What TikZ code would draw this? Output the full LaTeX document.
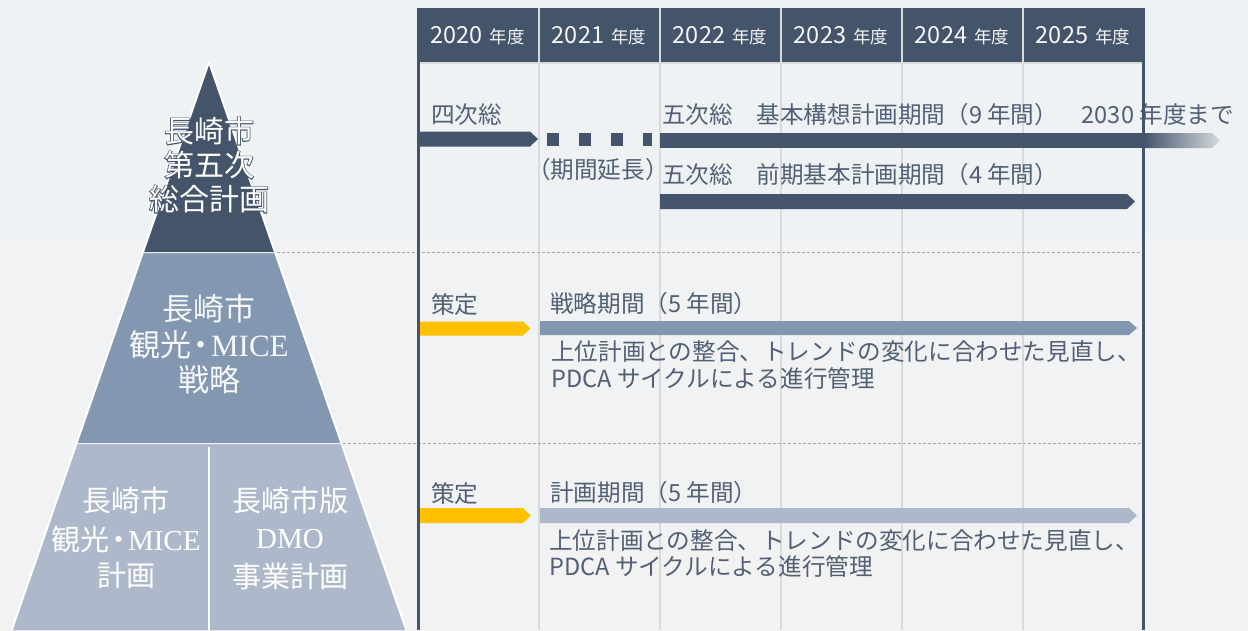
\documentclass[tikz,border=0pt]{standalone}
\usepackage{fontspec}
\setmainfont{Noto Sans CJK JP}
\newfontfamily\lser{Liberation Serif}
\newfontfamily\halo[FakeBold=5]{Noto Sans CJK JP}
\definecolor{navy}{HTML}{44546A}
\definecolor{midblue}{HTML}{8497B0}
\definecolor{lightblue}{HTML}{ADB9CA}
\definecolor{gold}{HTML}{FFC000}
\definecolor{txt}{HTML}{526075}
\definecolor{gridc}{HTML}{D9D9D9}
\definecolor{dashc}{HTML}{A6A6A6}
\definecolor{bgtop}{HTML}{EEF2F5}
\definecolor{bgbot}{HTML}{F2F2F3}
\tikzset{
  ptext/.style={inner sep=0pt, font=\fontsize{30}{30}\selectfont},
  btext/.style={inner sep=0pt, text=white, font=\fontsize{29}{29}\selectfont},
  mtext/.style={inner sep=0pt, text=white!92!midblue, font=\fontsize{31}{31}\selectfont},
  ttext/.style={inner sep=0pt, anchor=west, text=txt, font=\fontsize{23.6}{23.6}\selectfont},
  htext/.style={inner sep=0pt, text=white!95!navy},
  gridline/.style={draw=gridc, line width=2pt},
  border/.style={draw=navy, line width=2.5pt},
  divline/.style={draw=dashc, line width=0.8pt, dash pattern=on 3pt off 2pt},
  pyr/.style={draw=white, line width=2pt, line join=round},
}
\newcommand{\yr}[1]{{\fontsize{23.5}{23.5}\selectfont #1}\hspace{7pt}{\fontsize{17.5}{17.5}\selectfont 年度}}
\newcommand{\ndot}{\hspace{-0.18em}・\hspace{-0.18em}}
\begin{document}
\begin{tikzpicture}[x=1pt,y=-1pt]
\useasboundingbox (0,0) rectangle (1248,630);
\shade[top color=bgtop, bottom color=bgbot] (0,0) rectangle (1248,630);

% ---------- pyramid ----------
\fill[lightblue] (76.6,443) -- (341.4,443) -- (406.3,630) -- (11.7,630) -- cycle;
\draw[pyr] (11.7,630) -- (76.6,443) -- (341.4,443) -- (406.3,630);
\draw[pyr] (209,447) -- (209,630);
\fill[midblue] (143,252) -- (275,252) -- (341.4,443) -- (76.6,443) -- cycle;
\draw[pyr] (76.6,443) -- (143,252) -- (275,252) -- (341.4,443);
\fill[navy] (209,62) -- (275,252) -- (143,252) -- cycle;
\draw[pyr] (143,252) -- (209,62) -- (275,252);

\node[ptext, text=navy, align=center, font=\halo\fontsize{30}{34}\selectfont] (phalo) at (209,165) {長崎市\\第五次\\総合計画};
\node[ptext, text=white, align=center, font=\fontsize{30}{34}\selectfont] (ptop) at (209,165) {長崎市\\第五次\\総合計画};

\node[mtext] (ma) at (209,309) {長崎市};
\node[mtext] (mb) at (209,345) {観光\ndot{\lser MICE}};
\node[mtext] (mc) at (209,380) {戦略};

\node[btext] (la) at (126,500) {長崎市};
\node[btext] (lb) at (126,539) {観光\ndot{\lser MICE}};
\node[btext] (lc) at (126,576) {計画};
\node[btext] (ra) at (290,500) {長崎市版};
\node[btext] (rb) at (290,539) {{\lser DMO}};
\node[btext] (rc) at (290,576) {事業計画};

% ---------- table ----------
\fill[navy] (417,8) rectangle (1144.5,62);
\foreach \x in {538.5,659.5,780.5,901.5,1022.5}
  \draw[gridline] (\x,8) -- (\x,630);
\draw[gridc, line width=2pt] (418,62.5) -- (1143,62.5);

\node[htext] (h0) at (477.5,36) {\yr{2020}};
\node[htext] (h1) at (599,36) {\yr{2021}};
\node[htext] (h2) at (720,36) {\yr{2022}};
\node[htext] (h3) at (841,36) {\yr{2023}};
\node[htext] (h4) at (962,36) {\yr{2024}};
\node[htext] (h5) at (1083,36) {\yr{2025}};

\draw[divline] (277,252.5) -- (1143,252.5);
\draw[divline] (343,443.5) -- (1143,443.5);

% ---------- row 1 ----------
\node[ttext] (t1) at (431,115) {四次総};
\fill[navy] (418,131.5) -- (530,131.5) -- (538,139) -- (530,146.5) -- (418,146.5) -- cycle;
\foreach \a/\b in {546.5/558.5,579/591,611/623,643/652}
  \fill[navy] (\a,133) rectangle (\b,146);
\node[ttext] (t2) at (662,115) {五次総　基本構想計画期間（9 年間）　2030 年度まで};
\fill[navy] (660,133) rectangle (1143,148);
\shade[left color=navy, right color=navy!22!white] (1143,133) -- (1212,133) -- (1220,140.5) -- (1212,148) -- (1143,148) -- cycle;
\node[ttext] (t3) at (538,170) {\hspace{-0.47em}（期間延長）\hspace{-0.5em}};
\node[ttext] (t4) at (662,175) {五次総　前期基本計画期間（4 年間）};
\fill[navy] (660,194) -- (1127,194) -- (1135,201.5) -- (1127,209) -- (660,209) -- cycle;

% ---------- row 2 ----------
\node[ttext] (s1) at (431,305) {策定};
\fill[gold] (418,321.5) -- (523,321.5) -- (530.5,328.5) -- (523,335.5) -- (418,335.5) -- cycle;
\node[ttext] (s2) at (550,304) {戦略期間（5 年間）};
\fill[midblue] (540,321) -- (1129,321) -- (1137,328) -- (1129,335) -- (540,335) -- cycle;
\node[ttext] (s3) at (551,352) {上位計画との整合、トレンドの変化に合わせた見直し、};
\node[ttext] (s4) at (551,378) {PDCA サイクルによる進行管理};

% ---------- row 3 ----------
\node[ttext] (u1) at (431,494) {策定};
\fill[gold] (418,508) -- (523,508) -- (530.5,515.5) -- (523,523) -- (418,523) -- cycle;
\node[ttext] (u2) at (550,493) {計画期間（5 年間）};
\fill[lightblue] (540,508) -- (1129,508) -- (1137,515.5) -- (1129,523) -- (540,523) -- cycle;
\node[ttext] (u3) at (549,541) {上位計画との整合、トレンドの変化に合わせた見直し、};
\node[ttext] (u4) at (549,566) {PDCA サイクルによる進行管理};

% ---------- borders ----------
\draw[border] (418.5,62) -- (418.5,630);
\draw[border] (1143.5,62) -- (1143.5,630);
\end{tikzpicture}
\end{document}
